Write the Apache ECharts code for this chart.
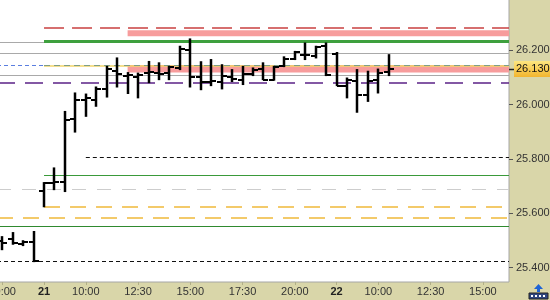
<!DOCTYPE html>
<html><head><meta charset="utf-8">
<script src="https://cdn.jsdelivr.net/npm/echarts@6/dist/echarts.min.js"></script>
<style>html,body{margin:0;padding:0;background:#fff}#c{width:550px;height:300px}</style>
</head><body><div id="c"></div>
<script>
// ---- categories (30-minute bars) ----
const categories = [
 '20 20:00','20 20:30','20 21:00','20 21:30',
 '21 08:00','21 08:30','21 09:00','21 09:30','21 10:00','21 10:30','21 11:00','21 11:30',
 '21 12:00','21 12:30','21 13:00','21 13:30','21 14:00','21 14:30','21 15:00','21 15:30',
 '21 16:00','21 16:30','21 17:00','21 17:30','21 18:00','21 18:30','21 19:00','21 19:30',
 '21 20:00','21 20:30','21 21:00','21 21:30',
 '22 08:00','22 08:30','22 09:00','22 09:30','22 10:00','22 10:30','22 11:00','22 11:30',
 '22 12:00','22 12:30','22 13:00','22 13:30','22 14:00','22 14:30','22 15:00','22 15:30','22 16:00'
];
const xTickCats   = ['20 20:00','21 08:00','21 10:00','21 12:30','21 15:00','21 17:30','21 20:00','22 08:00','22 10:00','22 12:30','22 15:00'];
const xTickLabels = ['20:00','21','10:00','12:30','15:00','17:30','20:00','22','10:00','12:30','15:00'];
const xBoldLabels = ['21','22'];

// ---- OHLC ----
const opens  = [25.499,25.506,25.488,25.493,25.681,25.712,25.717,25.947,26.018,26.018,26.058,26.125,26.107,26.103,26.117,26.118,26.118,26.135,26.200,26.103,26.085,26.085,26.103,26.092,26.114,26.131,26.092,26.141,26.169,26.184,26.178,26.215,26.188,26.070,26.088,26.037,26.092,26.119];
const highs  = [25.514,25.529,25.499,25.533,25.713,25.767,25.975,26.043,26.039,26.065,26.141,26.172,26.118,26.116,26.159,26.154,26.141,26.215,26.242,26.158,26.166,26.147,26.129,26.141,26.135,26.154,26.141,26.176,26.196,26.227,26.215,26.227,26.192,26.098,26.129,26.123,26.131,26.184];
const lows   = [25.466,25.486,25.481,25.422,25.624,25.687,25.680,25.899,25.957,25.994,26.028,26.065,26.041,26.025,26.081,26.092,26.092,26.129,26.065,26.055,26.070,26.058,26.085,26.074,26.107,26.092,26.090,26.140,26.166,26.166,26.172,26.107,26.070,26.025,25.972,26.012,26.043,26.107];
const closes = [25.492,25.490,25.493,25.425,25.712,25.717,25.945,26.018,26.025,26.058,26.133,26.114,26.110,26.110,26.120,26.114,26.137,26.205,26.103,26.085,26.087,26.107,26.096,26.114,26.129,26.092,26.139,26.169,26.192,26.184,26.213,26.108,26.070,26.092,26.037,26.086,26.117,26.130];

// ---- y-axis ticks ----
const yTicks = [25.4, 25.6, 25.8, 26.0, 26.2, 26.4];

// ---- horizontal levels (value, start category or null, end category or null) ----
const levelValues = [26.2825, 26.230, 26.233, 26.190, 26.1436, 26.1436, 26.1425, 26.109, 26.081, 25.807, 25.738, 25.686, 25.623, 25.583, 25.550, 25.421];
const levelStarts = ['21 08:00', null, '21 08:00', null, null, '21 08:00', '21 08:00', null, null, '21 10:00', '21 08:00', null, '21 08:00', null, null, null];
const levelEnds   = [null, null, null, null, '21 08:00', null, null, null, null, null, null, null, null, null, null, null];

// ---- shaded zones ----
const bandLows   = [26.252, 26.118];
const bandHighs  = [26.274, 26.1455];
const bandStarts = ['21 12:00', '21 12:00'];

// ---- styles (not data) ----
const levelStyles = [
  {color:'#c94040', width:1.5, dash:[20,8]},
  {color:'#a9a9a9', width:1},
  {color:'#3ea03e', width:3},
  {color:'#a9a9a9', width:1},
  {color:'#5a7ee0', width:1, dash:[4,3]},
  {color:'#f2d46a', width:1.5},
  {color:'#7f9f86', width:1, dash:[6,4]},
  {color:'#a9a9a9', width:1},
  {color:'#5b2286', width:1.5, dash:[18,10]},
  {color:'#111111', width:1, dash:[4,3]},
  {color:'#3a9a3a', width:1},
  {color:'#cdcdcd', width:1, dash:[14,11]},
  {color:'#f0b93a', width:1.5, dash:[16,10]},
  {color:'#f0b93a', width:1.5, dash:[16,10]},
  {color:'#2f8a2f', width:1},
  {color:'#111111', width:1, dash:[4,3]}
];
const bandColor = '#f79c9c';

const idx = c => c == null ? -1 : categories.indexOf(c);

const chart = echarts.init(document.getElementById('c'), null, {renderer:'canvas'});

function snap(y, w){ return (Math.round(w) % 2 === 1) ? Math.round(y - 0.5) + 0.5 : Math.round(y); }

function renderLevel(params, api){
  const cs = params.coordSys;
  const v = api.value(1), s = api.value(2), e = api.value(3);
  const st = levelStyles[params.dataIndex];
  const y = snap(api.coord([0, v])[1], st.width);
  const x1 = s < 0 ? cs.x : api.coord([s, v])[0];
  const x2 = e < 0 ? cs.x + cs.width : api.coord([e, v])[0];
  return {type:'line', shape:{x1:x1, y1:y, x2:x2, y2:y},
    style:{stroke:st.color, lineWidth:st.width, lineDash: st.dash || null, fill:null}};
}
function renderBand(params, api){
  const cs = params.coordSys;
  const lo = api.value(1), hi = api.value(2), s = api.value(3);
  const yTop = api.coord([0, hi])[1], yBot = api.coord([0, lo])[1];
  const x1 = s < 0 ? cs.x : api.coord([s, lo])[0];
  return {type:'rect', shape:{x:x1, y:yTop, width: cs.x + cs.width - x1, height: yBot - yTop},
    style:{fill: bandColor}};
}
function renderBar(params, api){
  const i = api.value(0);
  const pO = api.coord([i, api.value(1)]);
  const pC = api.coord([i, api.value(2)]);
  const pL = api.coord([i, api.value(3)]);
  const pH = api.coord([i, api.value(4)]);
  const x = Math.round(pO[0]);
  return {type:'group', children:[
    {type:'line', shape:{x1:x, y1:pH[1]-0.5, x2:x, y2:pL[1]+0.5}, style:{stroke:'#000', lineWidth:2.5}},
    {type:'line', shape:{x1:x-5, y1:Math.round(pO[1]), x2:x, y2:Math.round(pO[1])}, style:{stroke:'#000', lineWidth:2}},
    {type:'line', shape:{x1:x, y1:Math.round(pC[1]), x2:x+5, y2:Math.round(pC[1])}, style:{stroke:'#000', lineWidth:2}}
  ]};
}

const FONT = 'Liberation Sans';

chart.setOption({
  animation:false,
  backgroundColor:'#d9d6a9',
  grid:{left:-3, right:41, top:-4, bottom:18, containLabel:false, outerBoundsMode:'none',
        show:true, backgroundColor:'#ffffff', borderColor:'#a6a6a6', borderWidth:1},
  xAxis:{
    type:'category', data:categories, boundaryGap:true,
    axisLine:{show:false},
    axisTick:{show:true, alignWithLabel:true, length:3, interval:(i,v)=>xTickCats.includes(v), lineStyle:{color:'#b0ae88'}},
    axisLabel:{
      interval:(i,v)=>xTickCats.includes(v), hideOverlap:false,
      formatter:(v)=>{ const l = xTickLabels[xTickCats.indexOf(v)]; return xBoldLabels.includes(l) ? '{b|'+l+'}' : l; },
      margin:4, color:'#333', fontFamily:FONT, fontSize:11,
      rich:{b:{fontWeight:'bold', fontFamily:FONT, fontSize:11, color:'#222'}}
    },
    splitLine:{show:false}
  },
  yAxis:{
    type:'value', position:'right', min:25.347, max:26.4,
    axisLine:{show:false}, splitLine:{show:false},
    axisTick:{show:true, length:4, customValues:yTicks, lineStyle:{color:'#555'}},
    axisLabel:{customValues:yTicks, showMaxLabel:true, formatter:(v)=>v.toFixed(3), margin:7, color:'#333', fontFamily:FONT, fontSize:11}
  },
  series:[
    {type:'custom', name:'zones', renderItem:renderBand, clip:true, silent:true,
     dimensions:['x','lo','hi','s'], encode:{x:0, y:1},
     data: bandLows.map((lo,i)=>[0, lo, bandHighs[i], idx(bandStarts[i])])},
    {type:'custom', name:'levels', renderItem:renderLevel, clip:true, silent:true,
     dimensions:['x','v','s','e'], encode:{x:0, y:1},
     data: levelValues.map((v,i)=>[0, v, idx(levelStarts[i]), idx(levelEnds[i])])},
    {type:'custom', name:'price', renderItem:renderBar, clip:true,
     dimensions:['x','open','close','low','high'], encode:{x:0, y:[1,2,3,4]},
     data: opens.map((o,i)=>[i, o, closes[i], lows[i], highs[i]])}
  ]
});

// last price marker on the axis, plus the partially hidden top label
const lastClose = closes[closes.length-1];
const py = Math.round(chart.convertToPixel({yAxisIndex:0}, lastClose));
const pyTop = Math.round(chart.convertToPixel({yAxisIndex:0}, yTicks[yTicks.length-1]));
chart.setOption({
  graphic:[
    {type:'text', x:516, y:pyTop, style:{text:yTicks[yTicks.length-1].toFixed(3), fill:'#333', font:'11px "Liberation Sans"', textVerticalAlign:'middle'}, z:9},
    {type:'line', shape:{x1:509, y1:py+0.5, x2:514, y2:py+0.5}, style:{stroke:'#222', lineWidth:1.5}, z:10},
    {type:'rect', shape:{x:514, y:py-8, width:36, height:16},
     style:{fill:new echarts.graphic.LinearGradient(0,0,0,1,[{offset:0,color:'#fde680'},{offset:1,color:'#f2b52e'}])}, z:10},
    {type:'text', x:516, y:py, style:{text:lastClose.toFixed(3), fill:'#111', font:'11px "Liberation Sans"', textVerticalAlign:'middle'}, z:11},
    {type:'rect', shape:{x:529, y:293, width:19, height:6}, style:{fill:'#2f467e', stroke:'#222', lineWidth:1}, z:10},
    {type:'rect', shape:{x:531, y:295, width:2, height:2}, style:{fill:'#fff'}, z:11},
    {type:'rect', shape:{x:535, y:295, width:2, height:2}, style:{fill:'#fff'}, z:11},
    {type:'rect', shape:{x:539, y:295, width:2, height:2}, style:{fill:'#fff'}, z:11},
    {type:'rect', shape:{x:543, y:295, width:2, height:2}, style:{fill:'#fff'}, z:11},
    {type:'polygon', shape:{points:[[538.5,284],[543,289],[540,289],[540,292],[537,292],[537,289],[534,289]]}, style:{fill:'#1d63d6'}, z:11}
  ]
});
</script>
</body></html>
